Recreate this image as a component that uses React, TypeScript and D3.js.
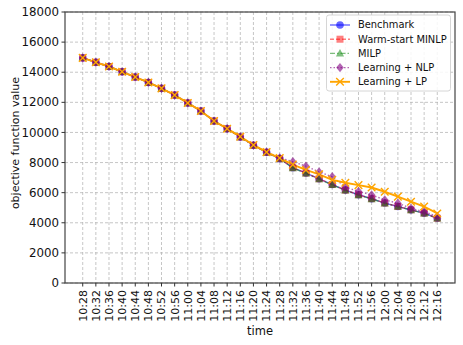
import React from "react";
import * as d3 from "d3";

const times = ["10:28","10:32","10:36","10:40","10:44","10:48","10:52","10:56","11:00","11:04","11:08","11:12","11:16","11:20","11:24","11:28","11:32","11:36","11:40","11:44","11:48","11:52","11:56","12:00","12:04","12:08","12:12","12:16"];

const benchmark = [14950,14660,14380,14030,13680,13320,12930,12480,11960,11420,10760,10250,9700,9150,8680,8260,7660,7300,6920,6540,6170,5860,5600,5310,5080,4860,4640,4300];
const warmStart = [14950,14660,14380,14030,13680,13320,12930,12480,11960,11420,10760,10250,9700,9150,8680,8260,7660,7300,6920,6540,6170,5860,5600,5310,5080,4860,4640,4300];
const milp = [14950,14660,14380,14030,13680,13320,12930,12480,11960,11420,10760,10250,9700,9150,8680,8260,7640,7280,6900,6520,6150,5850,5580,5300,5070,4850,4630,4290];
const learningNLP = [14950,14660,14380,14030,13680,13320,12930,12480,11960,11420,10760,10250,9700,9150,8700,8320,8060,7760,7380,7060,6380,6080,5850,5520,5300,4960,4730,4420];
const learningLP = [14950,14660,14380,14030,13680,13320,12930,12480,11960,11420,10760,10250,9720,9170,8690,8300,7860,7510,7220,6850,6660,6500,6340,6060,5740,5400,5080,4620];

const yTicks = [0,2000,4000,6000,8000,10000,12000,14000,16000,18000];

type Series = { name: string; values: number[]; color: string; opacity: number; dash: string; marker: string };

const series: Series[] = [
  { name: "Benchmark", values: benchmark, color: "blue", opacity: 0.6, dash: "", marker: "circle" },
  { name: "Warm-start MINLP", values: warmStart, color: "red", opacity: 0.5, dash: "4,2", marker: "square" },
  { name: "MILP", values: milp, color: "green", opacity: 0.5, dash: "5,2,1.5,2", marker: "triangle" },
  { name: "Learning + NLP", values: learningNLP, color: "purple", opacity: 0.6, dash: "1.5,2", marker: "diamond" },
  { name: "Learning + LP", values: learningLP, color: "orange", opacity: 1, dash: "", marker: "x" },
];

function Marker({ type, x, y, color, opacity }: { type: string; x: number; y: number; color: string; opacity: number }) {
  const s = 3.8;
  if (type === "circle") return <circle cx={x} cy={y} r={s} fill={color} fillOpacity={opacity} />;
  if (type === "square") return <rect x={x - s + 0.3} y={y - s + 0.3} width={2 * s - 0.6} height={2 * s - 0.6} fill={color} fillOpacity={opacity} />;
  if (type === "triangle") return <path d={`M${x},${y - s - 0.6}L${x + s + 0.3},${y + s - 0.6}L${x - s - 0.3},${y + s - 0.6}Z`} fill={color} fillOpacity={opacity} />;
  if (type === "diamond") return <path d={`M${x},${y - s - 0.8}L${x + s},${y}L${x},${y + s + 0.8}L${x - s},${y}Z`} fill={color} fillOpacity={opacity} />;
  return <path d={`M${x - s},${y - s}L${x + s},${y + s}M${x - s},${y + s}L${x + s},${y - s}`} stroke={color} strokeWidth={1.4} fill="none" />;
}

export default function App() {
  const W = 463, H = 345;
  const left = 65, right = 455, top = 12, bottom = 283;
  const n = times.length;
  const pad = (n - 1) * 0.05;
  const x = d3.scaleLinear().domain([-pad, n - 1 + pad]).range([left, right]);
  const y = d3.scaleLinear().domain([0, 18000]).range([bottom, top]);
  const font = "DejaVu Sans, sans-serif";

  const line = (vals: number[]) =>
    d3.line<number>().x((_, i) => x(i)).y((d) => y(d))(vals) || "";

  return (
    <svg width={W} height={H} style={{ position: "absolute", left: 0, top: 0 }} fontFamily={font}>
      <rect width={W} height={H} fill="white" />
      {/* grid */}
      {times.map((t, i) => (
        <line key={"gx" + t} x1={x(i)} x2={x(i)} y1={top} y2={bottom} stroke="#b0b0b0" strokeOpacity={0.8} strokeDasharray="3,2" strokeWidth={0.9} />
      ))}
      {yTicks.map((v) => (
        <line key={"gy" + v} x1={left} x2={right} y1={y(v)} y2={y(v)} stroke="#b0b0b0" strokeOpacity={0.8} strokeDasharray="3,2" strokeWidth={0.9} />
      ))}
      {/* lines */}
      {series.map((s) => (
        <path key={"l" + s.name} d={line(s.values)} fill="none" stroke={s.color} strokeOpacity={s.opacity} strokeWidth={s.name === "Learning + LP" ? 1.9 : 1.4} strokeDasharray={s.dash} />
      ))}
      {series.map((s) => (
        <g key={"m" + s.name}>
          {s.values.map((v, i) => (
            <Marker key={i} type={s.marker} x={x(i)} y={y(v)} color={s.color} opacity={s.opacity} />
          ))}
        </g>
      ))}
      {/* frame */}
      <rect x={left} y={top} width={right - left} height={bottom - top} fill="none" stroke="#444" strokeWidth={1.2} />
      {/* y ticks */}
      {yTicks.map((v) => (
        <g key={"yt" + v}>
          <line x1={left - 3.5} x2={left} y1={y(v)} y2={y(v)} stroke="#333" />
          <text x={left - 6} y={y(v)} dy="0.35em" textAnchor="end" fontSize={11.8} fill="#111">{v}</text>
        </g>
      ))}
      {/* x ticks */}
      {times.map((t, i) => (
        <g key={"xt" + t}>
          <line x1={x(i)} x2={x(i)} y1={bottom} y2={bottom + 3.5} stroke="#333" />
          <text transform={`translate(${x(i)},${bottom + 7}) rotate(-90)`} dy="0.35em" textAnchor="end" fontSize={11} fill="#111">{t}</text>
        </g>
      ))}
      <text x={(left + right) / 2} y={335} textAnchor="middle" fontSize={11.5} fill="#111">time</text>
      <text transform={`translate(19,143) rotate(-90)`} textAnchor="middle" fontSize={11} fill="#111">objective function value</text>
      {/* legend */}
      <g>
        <rect x={326.5} y={15} width={124} height={76} rx={2.5} fill="white" fillOpacity={0.85} stroke="#ccc" strokeWidth={0.8} />
        {series.map((s, i) => {
          const ly = 25 + i * 14.2;
          return (
            <g key={"lg" + s.name}>
              <line x1={330} x2={350} y1={ly} y2={ly} stroke={s.color} strokeOpacity={s.opacity} strokeWidth={s.name === "Learning + LP" ? 1.9 : 1.4} strokeDasharray={s.dash} />
              <Marker type={s.marker} x={340} y={ly} color={s.color} opacity={s.opacity} />
              <text x={358} y={ly} dy="0.35em" fontSize={9.9} fill="#111">{s.name}</text>
            </g>
          );
        })}
      </g>
    </svg>
  );
}
